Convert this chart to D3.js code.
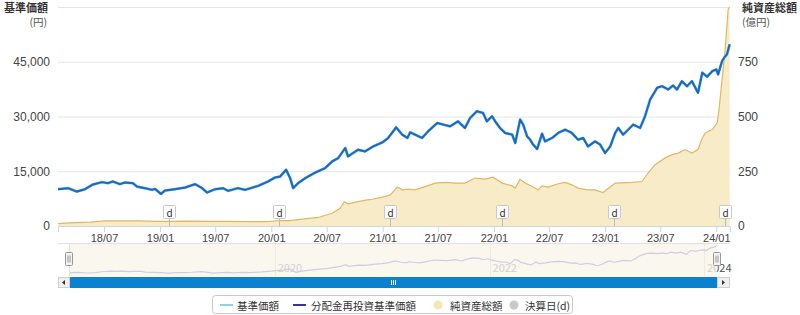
<!DOCTYPE html>
<html><head><meta charset="utf-8">
<script src="https://cdn.jsdelivr.net/npm/d3@7"></script>
<style>
body{margin:0;background:#fff;}
svg{display:block;font-family:"Noto Sans CJK JP","Noto Sans",sans-serif;}
</style></head><body>
<svg id="c" width="800" height="315"></svg>
<script>
// ---- data ----
const priceDates = ["2018-01-31","2018-03-05","2018-04-03","2018-04-30","2018-05-23","2018-06-24","2018-07-14","2018-07-30","2018-08-22","2018-09-08","2018-10-04","2018-10-17","2018-11-12","2018-12-06","2018-12-15","2019-01-04","2019-01-17","2019-02-19","2019-03-24","2019-04-26","2019-05-19","2019-06-04","2019-07-01","2019-07-27","2019-08-12","2019-09-14","2019-10-07","2019-11-19","2019-12-21","2020-01-13","2020-01-30","2020-02-19","2020-03-03","2020-03-13","2020-03-29","2020-04-22","2020-05-25","2020-06-26","2020-07-19","2020-08-08","2020-08-31","2020-09-09","2020-09-22","2020-10-12","2020-11-04","2020-12-01","2020-12-31","2021-01-19","2021-02-14","2021-03-06","2021-03-23","2021-04-01","2021-04-17","2021-05-10","2021-05-30","2021-06-29","2021-07-19","2021-08-10","2021-09-05","2021-09-28","2021-10-15","2021-11-06","2021-11-26","2021-12-09","2021-12-26","2022-01-05","2022-01-21","2022-02-07","2022-03-02","2022-03-12","2022-03-28","2022-04-07","2022-04-20","2022-04-30","2022-05-10","2022-05-23","2022-06-08","2022-06-18","2022-07-11","2022-07-31","2022-08-23","2022-09-14","2022-10-04","2022-10-21","2022-11-06","2022-11-29","2022-12-16","2023-01-01","2023-01-18","2023-02-03","2023-02-13","2023-03-01","2023-03-18","2023-04-03","2023-04-26","2023-05-12","2023-05-29","2023-06-21","2023-07-07","2023-07-27","2023-08-12","2023-08-25","2023-09-10","2023-09-27","2023-10-13","2023-11-02","2023-11-16","2023-12-02","2023-12-19","2024-01-01","2024-01-07","2024-01-20","2024-01-27","2024-02-05","2024-02-14"];
const priceValues = [10100,10370,9430,10090,11280,12020,11740,12180,11470,11910,11740,10810,10370,9900,10180,8800,9710,10090,10530,11470,10370,9160,10090,10370,9630,10370,9900,11000,12180,13280,13560,15400,13120,10370,11740,13120,14660,15870,17680,18620,21370,19060,19800,20900,20430,21810,22910,24120,27030,25030,24120,25660,25030,24120,25930,28240,27780,27310,28680,26870,29620,31430,30990,28680,30060,28680,26870,25490,25030,22740,29150,27780,24560,23650,22280,21090,25300,23180,24120,25490,26400,25490,23650,24120,21810,23180,22280,20000,21810,25490,26870,25030,26400,27780,26870,30060,34650,37870,38310,37400,38500,37400,39680,38310,39680,36490,42000,40890,42430,42900,41530,45180,46120,47030,49780];
// 分配金再投資基準価額 (no distributions paid: same as 基準価額)
const reinvestValues = priceValues.slice();

const assetDates = ["2018-01-31","2018-03-10","2018-05-16","2018-07-04","2018-08-28","2018-10-28","2018-12-15","2019-02-03","2019-04-03","2019-06-14","2019-08-12","2019-10-23","2019-12-18","2020-01-30","2020-03-03","2020-04-11","2020-06-03","2020-07-19","2020-08-14","2020-08-28","2020-09-09","2020-10-12","2020-11-11","2020-11-28","2020-12-31","2021-01-26","2021-02-18","2021-03-06","2021-03-26","2021-04-17","2021-05-20","2021-06-22","2021-07-25","2021-08-27","2021-09-28","2021-10-31","2021-12-03","2021-12-29","2022-01-28","2022-03-02","2022-03-12","2022-03-28","2022-04-13","2022-05-07","2022-05-26","2022-06-08","2022-06-28","2022-07-31","2022-08-23","2022-09-14","2022-10-04","2022-11-03","2022-11-29","2022-12-25","2023-02-03","2023-03-31","2023-05-02","2023-05-22","2023-06-14","2023-07-17","2023-08-09","2023-08-29","2023-09-20","2023-10-13","2023-11-02","2023-11-16","2023-11-26","2023-12-19","2024-01-04","2024-01-10","2024-01-20","2024-01-30","2024-02-09","2024-02-14"];
const assetValues = [11,14,18,23,24,23,21,21,22,21,21,20,20,25,25,31,39,58,81,111,101,111,119,122,132,142,178,165,168,165,180,196,199,196,196,219,214,223,196,183,173,214,196,180,165,183,178,193,199,188,173,165,165,153,196,199,203,242,280,311,326,333,349,333,349,402,425,440,471,532,670,807,991,1000];

const settleDates = ["2019-01-30","2020-01-27","2021-01-26","2022-01-27","2023-01-30","2024-01-29"];
const leftTicks = [0,15000,30000,45000,60000];
const rightTicks = [0,250,500,750,1000];
const navYears = ["2020-01-01","2022-01-01","2024-01-01"];
const legendItems = ["基準価額","分配金再投資基準価額","純資産総額","決算日(d)"];

// ---- drawing ----
const parse = d3.timeParse("%Y-%m-%d");
const svg = d3.select("#c");
const L = 58, R = 730, T = 7, B = 226;
const x = d3.scaleTime().domain([parse("2018-01-31"), parse("2024-02-15")]).range([L, R]);
const yL = d3.scaleLinear().domain([0, 60000]).range([B, T]);
const yR = d3.scaleLinear().domain([0, 1000]).range([B, T]);

const price = priceDates.map((d, i) => ({d: parse(d), v: priceValues[i]}));
const reinv = priceDates.map((d, i) => ({d: parse(d), v: reinvestValues[i]}));
const asset = assetDates.map((d, i) => ({d: parse(d), v: assetValues[i]}));

// gridlines
const grid = svg.append("g").attr("transform", `translate(${L},0)`)
  .call(d3.axisLeft(yL).tickValues(leftTicks).tickSize(-(R - L)).tickFormat(""));
grid.select(".domain").remove();
grid.selectAll("line").attr("stroke", "#e6e6e6");

// asset area
svg.append("path").datum(asset)
  .attr("fill", "#f7ebc8")
  .attr("d", d3.area().x(d => x(d.d)).y0(B).y1(d => yR(d.v)));
svg.append("path").datum(asset)
  .attr("fill", "none").attr("stroke", "#e2b764").attr("stroke-width", 1.2)
  .attr("d", d3.line().x(d => x(d.d)).y(d => yR(d.v)));

// x axis
const xa = svg.append("g").attr("transform", `translate(0,${B})`)
  .call(d3.axisBottom(x).ticks(d3.timeMonth.every(6)).tickFormat(d3.timeFormat("%y/%m")).tickSize(6).tickPadding(2));
xa.select(".domain").attr("stroke", "#ccd6eb");
xa.selectAll(".tick line").attr("stroke", "#ccd6eb");
xa.selectAll("text").attr("fill", "#444").attr("font-size", 11);

// settlement flags
const flags = svg.append("g");
settleDates.forEach(s => {
  const fx = Math.round(x(parse(s))) + 0.5;
  flags.append("line").attr("x1", fx).attr("x2", fx).attr("y1", 218).attr("y2", B).attr("stroke", "#bbb");
  flags.append("rect").attr("x", fx - 6).attr("y", 205.5).attr("width", 12).attr("height", 13)
    .attr("fill", "#fff").attr("stroke", "#c8c8c8").attr("rx", 1);
  flags.append("text").attr("x", fx).attr("y", 212).attr("text-anchor", "middle")
    .attr("dominant-baseline", "central").attr("font-size", 10).attr("fill", "#333").text("d");
});

// price lines
svg.append("path").datum(price)
  .attr("fill", "none").attr("stroke", "#7cc3ea").attr("stroke-width", 2.8).attr("stroke-linejoin", "round")
  .attr("d", d3.line().x(d => x(d.d)).y(d => yL(d.v)));
svg.append("path").datum(reinv)
  .attr("fill", "none").attr("stroke", "#1c68c0").attr("stroke-width", 2).attr("stroke-linejoin", "round")
  .attr("d", d3.line().x(d => x(d.d)).y(d => yL(d.v)));

// left axis labels
const la = svg.append("g").attr("transform", `translate(${L},0)`)
  .call(d3.axisLeft(yL).tickValues(leftTicks.slice(0, 4)).tickSize(0).tickPadding(8).tickFormat(d3.format(",")));
la.select(".domain").remove();
la.selectAll("text").attr("fill", "#444").attr("font-size", 12);

const ra = svg.append("g").attr("transform", `translate(${R},0)`)
  .call(d3.axisRight(yR).tickValues(rightTicks.slice(0, 4)).tickSize(0).tickPadding(8));
ra.select(".domain").remove();
ra.selectAll("text").attr("fill", "#444").attr("font-size", 12);

// axis titles
svg.append("text").attr("x", 48).attr("y", 12).attr("text-anchor", "end")
  .attr("font-size", 11).attr("font-weight", "bold").attr("fill", "#333").text("基準価額");
svg.append("text").attr("x", 47).attr("y", 26).attr("text-anchor", "end")
  .attr("font-size", 10.5).attr("fill", "#555").text("(円)");
svg.append("text").attr("x", 742).attr("y", 12)
  .attr("font-size", 11).attr("font-weight", "bold").attr("fill", "#333").text("純資産総額");
svg.append("text").attr("x", 742).attr("y", 26)
  .attr("font-size", 10.5).attr("fill", "#555").text("(億円)");

// ---- navigator ----
const NL = 69, NR = 717, NT = 243, NB = 276;
const nx = d3.scaleTime().domain([parse("2018-01-31"), parse("2024-02-14")]).range([NL, NR]);
const ny = d3.scaleLinear().domain([8000, 50000]).range([274, 245]);
svg.append("line").attr("x1", L).attr("x2", R).attr("y1", NT + 0.5).attr("y2", NT + 0.5).attr("stroke", "#e2e2e2");
svg.append("rect").attr("x", NL).attr("y", NT + 1).attr("width", NR - NL).attr("height", NB - NT - 1).attr("fill", "#faf7ef");
navYears.forEach(s => {
  const gx = Math.round(nx(parse(s))) + 0.5;
  svg.append("line").attr("x1", gx).attr("x2", gx).attr("y1", NT + 1).attr("y2", NB).attr("stroke", "#efeadf");
});
const defs = svg.append("defs");
defs.append("clipPath").attr("id", "inNav").append("rect").attr("x", 0).attr("y", 0).attr("width", NR).attr("height", 315);
defs.append("clipPath").attr("id", "outNav").append("rect").attr("x", NR).attr("y", 0).attr("width", 100).attr("height", 315);
navYears.forEach(s => {
  const gx = nx(parse(s)) + 3;
  const lbl = d3.timeFormat("%Y")(parse(s));
  svg.append("text").attr("x", gx).attr("y", 272).attr("font-size", 11).attr("fill", "#d2d2d2")
    .attr("clip-path", "url(#inNav)").text(lbl);
  svg.append("text").attr("x", gx).attr("y", 272).attr("font-size", 11).attr("fill", "#555")
    .attr("clip-path", "url(#outNav)").text(lbl);
});
svg.append("path").datum(price)
  .attr("fill", "none").attr("stroke", "#d4cbe0").attr("stroke-width", 1.2)
  .attr("d", d3.line().x(d => nx(d.d)).y(d => ny(d.v)));
svg.append("line").attr("x1", NL + 0.5).attr("x2", NL + 0.5).attr("y1", NT).attr("y2", NB).attr("stroke", "#e2e2e2");
// handles
[NL, NR].forEach(hx => {
  const g = svg.append("g");
  g.append("rect").attr("x", hx - 3.5).attr("y", 252.5).attr("width", 7).attr("height", 13).attr("rx", 1)
    .attr("fill", "#f2f2f2").attr("stroke", "#999");
  g.append("line").attr("x1", hx - 1).attr("x2", hx - 1).attr("y1", 255.5).attr("y2", 262.5).attr("stroke", "#999");
  g.append("line").attr("x1", hx + 1).attr("x2", hx + 1).attr("y1", 255.5).attr("y2", 262.5).attr("stroke", "#999");
});

// scrollbar
const SY = 277, SH = 10;
svg.append("rect").attr("x", L + 0.5).attr("y", SY + 0.5).attr("width", NL - L).attr("height", SH)
  .attr("fill", "#f0f0f0").attr("stroke", "#d0d0d0");
svg.append("rect").attr("x", NR + 0.5).attr("y", SY + 0.5).attr("width", R - NR - 1).attr("height", SH)
  .attr("fill", "#f0f0f0").attr("stroke", "#d0d0d0");
svg.append("path").attr("d", `M${(L + NL) / 2 - 1.5},${SY + 5.5} l3,-2.5 v5 z`).attr("fill", "#333");
svg.append("path").attr("d", `M${(NR + R) / 2 + 1.5},${SY + 5.5} l-3,-2.5 v5 z`).attr("fill", "#333");
svg.append("rect").attr("x", NL + 1).attr("y", SY).attr("width", NR - NL - 1).attr("height", SH + 1).attr("fill", "#0a82cf");
[-2, 0, 2].forEach(o => {
  const gx = (NL + NR) / 2 + o + 0.5;
  svg.append("line").attr("x1", gx).attr("x2", gx).attr("y1", SY + 3).attr("y2", SY + 8).attr("stroke", "#fff");
});

// ---- legend ----
const lg = svg.append("g");
lg.append("rect").attr("x", 212.5).attr("y", 295.5).attr("width", 360).attr("height", 18).attr("rx", 3)
  .attr("fill", "#fff").attr("stroke", "#c8c8c8");
const LY = 305;
lg.append("line").attr("x1", 220).attr("x2", 233).attr("y1", LY).attr("y2", LY).attr("stroke", "#8fd0f0").attr("stroke-width", 2);
lg.append("text").attr("x", 237).attr("y", LY).attr("dominant-baseline", "central").attr("font-size", 10.5).attr("fill", "#333").text(legendItems[0]);
lg.append("line").attr("x1", 293).attr("x2", 306).attr("y1", LY).attr("y2", LY).attr("stroke", "#34379a").attr("stroke-width", 2);
lg.append("text").attr("x", 311).attr("y", LY).attr("dominant-baseline", "central").attr("font-size", 10.5).attr("fill", "#333").text(legendItems[1]);
lg.append("circle").attr("cx", 438).attr("cy", LY).attr("r", 4.5).attr("fill", "#f5e6b2");
lg.append("text").attr("x", 450).attr("y", LY).attr("dominant-baseline", "central").attr("font-size", 10.5).attr("fill", "#333").text(legendItems[2]);
lg.append("circle").attr("cx", 514).attr("cy", LY).attr("r", 4.5).attr("fill", "#c9c9c9");
lg.append("text").attr("x", 525).attr("y", LY).attr("dominant-baseline", "central").attr("font-size", 10.5).attr("fill", "#333").text(legendItems[3]);
</script>
</body></html>
